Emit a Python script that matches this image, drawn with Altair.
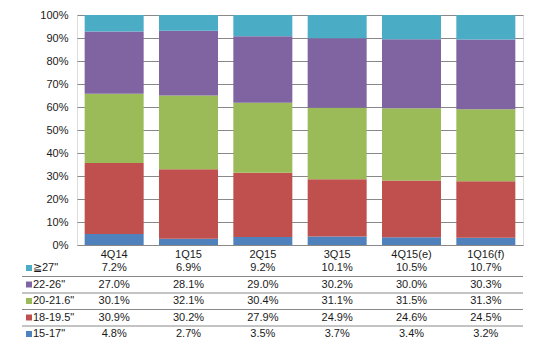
import altair as alt
import pandas as pd

categories = ["4Q14", "1Q15", "2Q15", "3Q15", "4Q15(e)", "1Q16(f)"]
series = ["15-17\"", "18-19.5\"", "20-21.6\"", "22-26\"", "≧27\""]
colors = ["#4F81BD", "#C0504D", "#9BBB59", "#8064A2", "#4BACC6"]
values = {
    "15-17\"":   [4.8, 2.7, 3.5, 3.7, 3.4, 3.2],
    "18-19.5\"": [30.9, 30.2, 27.9, 24.9, 24.6, 24.5],
    "20-21.6\"": [30.1, 32.1, 30.4, 31.1, 31.5, 31.3],
    "22-26\"":   [27.0, 28.1, 29.0, 30.2, 30.0, 30.3],
    "≧27\"":     [7.2, 6.9, 9.2, 10.1, 10.5, 10.7],
}
table_order = ["≧27\"", "22-26\"", "20-21.6\"", "18-19.5\"", "15-17\""]

rows = []
for si, s in enumerate(series):
    for ci, c in enumerate(categories):
        rows.append({"category": c, "series": s, "value": values[s][ci], "order": si})
df = pd.DataFrame(rows)
legend_df = pd.DataFrame({"series": series, "order": list(range(len(series)))})
lines_df = pd.DataFrame({"series": table_order[1:]})

FONT = "Liberation Sans"
TXT = "#1a1a1a"

xenc = alt.X("category:N", sort=categories, title=None,
             scale=alt.Scale(paddingInner=0.2, paddingOuter=0.1),
             axis=alt.Axis(domain=False, ticks=False, labelAngle=0, labelPadding=3,
                           labelFont=FONT, labelFontSize=11, labelColor=TXT))
color = alt.Color("series:N", scale=alt.Scale(domain=series, range=colors), legend=None)

bars = alt.Chart(df).mark_bar(size=59).encode(
    x=xenc,
    y=alt.Y("value:Q", stack="normalize", title=None,
            scale=alt.Scale(domain=[0, 1]),
            axis=alt.Axis(format=".0%", values=[i / 10 for i in range(11)],
                          domain=False, ticks=False, grid=True, gridColor="#888888",
                          gridWidth=1, labelPadding=9, labelFont=FONT, labelFontSize=11,
                          labelColor=TXT)),
    color=color,
    order=alt.Order("order:Q", sort="ascending"),
)

ytab = alt.Y("series:N", sort=table_order,
             scale=alt.Scale(type="point", domain=table_order, range=[253, 319], padding=0),
             axis=None)

rules = alt.Chart(lines_df).mark_rule(color="#888888", strokeWidth=1).encode(
    x=alt.value(-55), x2=alt.value(446), y=ytab, yOffset=alt.value(-8))

squares = alt.Chart(legend_df).mark_square(size=36, opacity=1).encode(
    x=alt.value(-48), y=ytab, color=color)

legend_text = alt.Chart(legend_df).mark_text(
    align="left", baseline="middle", font=FONT, fontSize=11, color=TXT
).encode(x=alt.value(-44), y=ytab, text="series:N")

cell_text = alt.Chart(df).transform_calculate(
    label="format(datum.value, '.1f') + '%'"
).mark_text(align="center", baseline="middle", font=FONT, fontSize=11, color=TXT).encode(
    x=alt.X("category:N", sort=categories,
            scale=alt.Scale(paddingInner=0.2, paddingOuter=0.1)),
    y=ytab, text="label:N")

chart = alt.layer(bars, rules, squares, legend_text, cell_text).resolve_scale(
    y="independent", color="shared"
).properties(
    width=446, height=230,
    autosize=alt.AutoSizeParams(type="none"),
    padding={"left": 77, "top": 15, "right": 16, "bottom": 105},
).configure_view(stroke=None).configure(background="white")

chart.save("out.html", embed_options={"renderer": "svg", "actions": False})
